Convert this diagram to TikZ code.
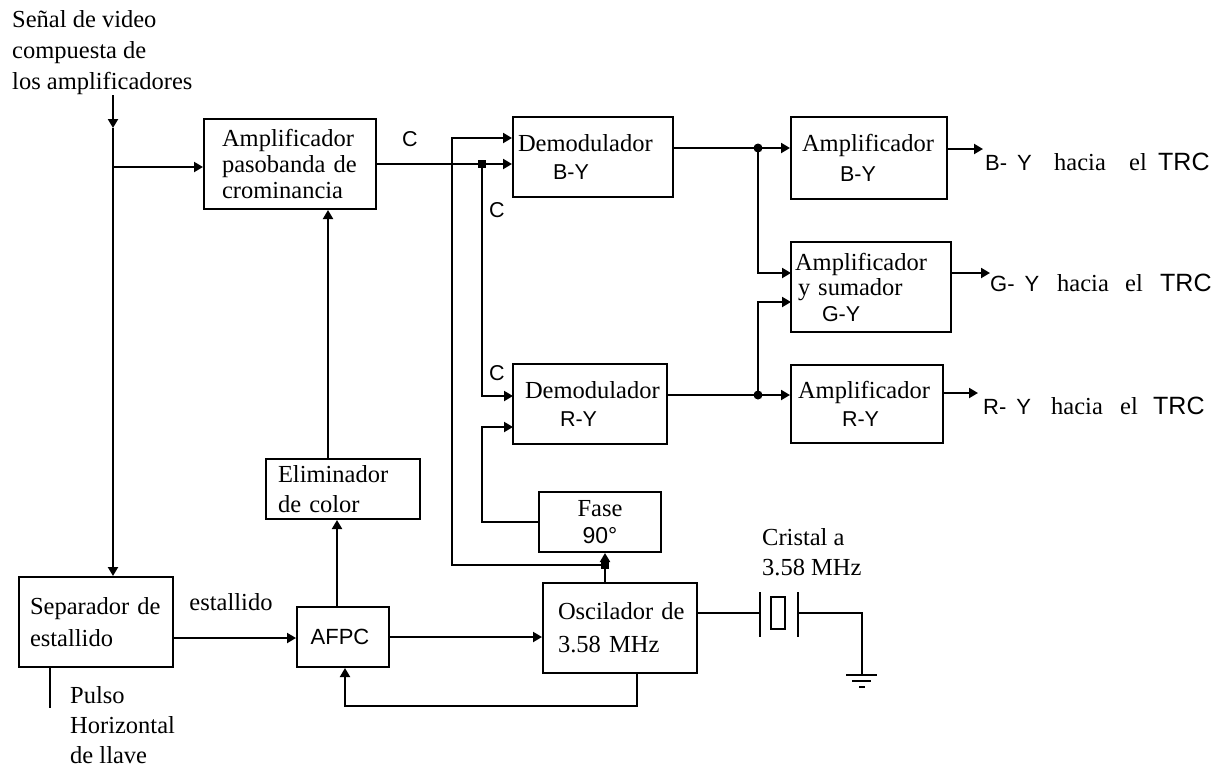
\documentclass[tikz,border=0pt]{standalone}
\usepackage{fontspec}
\setmainfont{Liberation Serif}
\newfontfamily\arialf{Liberation Sans}
\usetikzlibrary{arrows.meta}
\newcommand\ssf[1]{{\arialf\fontsize{21.5}{24}\selectfont #1}}
\newcommand\sersize[1]{\fontsize{24.5}{#1}\selectfont}
\begin{document}
\begin{tikzpicture}[x=1pt,y=-1pt,
  box/.style={draw, line width=2pt, inner sep=0pt, align=left, font=\sersize{26}},
  arr/.style={line width=2pt, -{Triangle[length=9pt,width=10pt]}},
  ln/.style={line width=2pt},
  lbl/.style={inner sep=0pt, align=left, font=\sersize{31}},
  sl/.style={inner sep=0pt, font=\arialf\fontsize{21.5}{24}\selectfont},
  sbase/.style={inner sep=0pt, anchor=base west, font=\arialf\fontsize{22}{24}\selectfont},
  rbase/.style={inner sep=0pt, anchor=base west, font=\sersize{26}}]
\useasboundingbox (0,0) rectangle (1225,769);

% boxes
\node[box, text width=172pt, minimum height=90pt] (amp) at (290,164)
  {\hspace*{18pt}Amplificador\\\hspace*{18pt}pasobanda de\\\hspace*{18pt}crominancia};
\node[box, text width=160pt, minimum height=80pt, font=\sersize{28}] (demB) at (593,157)
  {\hspace*{5pt}Demodulador\\\hspace*{40pt}\ssf{B-Y}};
\node[box, text width=154pt, minimum height=80pt, font=\sersize{28}] (demR) at (590,404)
  {\hspace*{12pt}Demodulador\\\hspace*{47pt}\ssf{R-Y}};
\node[box, text width=122pt, minimum height=60pt, align=center, font=\sersize{27}] (fase) at (600,522)
  {Fase\\{\arialf\fontsize{23}{27}\selectfont 90°}};
\node[box, text width=154pt, minimum height=90pt, font=\sersize{33}] (osc) at (620,628)
  {\hspace*{15pt}Oscilador de\\\hspace*{15pt}3.58 MHz};
\node[box, text width=92pt, minimum height=60pt, align=center] (afpc) at (343,637)
  {{\arialf\fontsize{22}{24}\selectfont\hspace*{-6pt}AFPC}};
\node[box, text width=154pt, minimum height=90pt, font=\sersize{32}] (sep) at (96,622)
  {\hspace*{11pt}Separador de\\\hspace*{11pt}estallido};
\node[box, text width=154pt, minimum height=60pt, font=\sersize{30}] (elim) at (343,489)
  {\hspace*{12pt}Eliminador\\\hspace*{12pt}de color};
\node[box, text width=156pt, minimum height=82pt, font=\sersize{30}] (ampB) at (869,158)
  {\hspace*{11pt}Amplificador\\\hspace*{49pt}\ssf{B-Y}};
\node[box, text width=160pt, minimum height=90pt, font=\sersize{25.5}] (ampG) at (871,287)
  {\hspace*{4pt}Amplificador\\\hspace*{7pt}y\hspace{8pt}sumador\\\hspace*{31pt}\ssf{G-Y}};
\node[box, text width=152pt, minimum height=78pt, font=\sersize{28}] (ampR) at (867,404)
  {\hspace*{7pt}Amplificador\\\hspace*{51pt}\ssf{R-Y}};

% coordinates
\coordinate (inTop) at (113,95);
\coordinate (inMid) at (113,128);
\coordinate (br) at (113,167);
\coordinate (jC) at (482,164);
\coordinate (cL) at (452,138);
\coordinate (jO) at (605,565);
\coordinate (oscT) at (605,583);
\coordinate (rIn1) at (513,396);
\coordinate (rIn2) at (513,427);
\coordinate (jB) at (758,148);
\coordinate (jR) at (758,395);
\coordinate (gIn1) at (791,273);
\coordinate (gIn2) at (791,302);
\coordinate (fb) at (345,706);
\coordinate (pul) at (50,708);
\coordinate (xl) at (760,613);
\coordinate (xr) at (798,613);
\coordinate (gnd) at (862,675);
\coordinate (oB) at (983,149);
\coordinate (oG) at (990,273);
\coordinate (oR) at (978,393);

% connectors
\draw[arr] (inTop) -- (inMid);
\draw[arr] (inMid) -- (inMid |- sep.north);
\draw[arr] (br) -- (br -| amp.west);
\draw[arr] (amp.east) -- (amp.east -| demB.west);
\draw[arr] (jC) |- (rIn1);
\draw[arr] (jO) -| (cL) -- (cL -| demB.west);
\draw[arr] (oscT) -- (oscT |- fase.south);
\draw[arr] (fase.west) -| (rIn2 -| jC) -- (rIn2);
\draw[arr] (afpc.east) -- (afpc.east -| osc.west);
\draw[arr] ([yshift=-16pt]sep.east) -- ([yshift=-16pt]sep.east -| afpc.west);
\draw[arr] ([xshift=17pt]osc.south) |- (fb) -- (fb |- afpc.south);
\draw[arr] ([xshift=-6pt]afpc.north) -- ([xshift=-6pt]elim.south);
\draw[arr] ([xshift=-15pt]elim.north) -- ([xshift=-15pt]elim.north |- amp.south);
\draw[ln] (pul |- sep.south) -- (pul);
\draw[ln] ([yshift=9pt]demB.east) -- (jB);
\draw[arr] (jB) -- (jB -| ampB.west);
\draw[arr] (jB) |- (gIn1);
\draw[ln] ([yshift=9pt]demR.east) -- (jR);
\draw[arr] (jR) -- (jR -| ampR.west);
\draw[arr] (jR) |- (gIn2);
\draw[arr] (oB -| ampB.east) -- (oB);
\draw[arr] (oG -| ampG.east) -- (oG);
\draw[arr] (oR -| ampR.east) -- (oR);

% junctions
\fill (jB) circle (4.5);
\fill (jR) circle (4.5);
\fill ([shift={(-4,-4)}]jC) rectangle ++(8,8);
\fill ([shift={(-4,-4)}]jO) rectangle ++(8,8);

% crystal and ground
\draw[ln] ([yshift=15pt]osc.east) -- (xl);
\draw[ln] (760,592) -- (760,637);
\draw[ln] (771,597) rectangle (785,629);
\draw[ln] (798,592) -- (798,637);
\draw[ln] (xr) -| (gnd);
\draw[ln] (846,675) -- (877,675);
\draw[ln] (852,681) -- (871,681);
\draw[ln] (859,687) -- (865,687);

% labels
\node[lbl, anchor=north west] (inLbl) at (12,10) {Señal de video\\compuesta de\\los amplificadores};
\node[sl] (c1) at (410,139) {C};
\node[sl] (c2) at (497,210) {C};
\node[sl] (c3) at (497,373) {C};
\node[lbl] (est) at (231,602) {estallido};
\node[lbl, anchor=north west, font=\sersize{30}] (pulso) at (70,686) {Pulso\\Horizontal\\de llave};
\node[lbl, anchor=north west, font=\sersize{30}] (cris) at (762,528) {Cristal a\\3.58 MHz};

\node[sbase] (b1) at (985,170) {B-\hspace{10pt}Y};
\node[rbase] (b2) at (1054,170) {hacia};
\node[rbase] (b3) at (1129,170) {el};
\node[sbase, font=\arialf\fontsize{25}{26}\selectfont] (b4) at (1158,170) {TRC};
\node[sbase] (g1) at (990,291) {G-\hspace{10pt}Y};
\node[rbase] (g2) at (1057,291) {hacia};
\node[rbase] (g3) at (1125,291) {el};
\node[sbase, font=\arialf\fontsize{25}{26}\selectfont] (g4) at (1160,291) {TRC};
\node[sbase] (r1) at (983,414) {R-\hspace{10pt}Y};
\node[rbase] (r2) at (1051,414) {hacia};
\node[rbase] (r3) at (1120,414) {el};
\node[sbase, font=\arialf\fontsize{25}{26}\selectfont] (r4) at (1153,414) {TRC};
\end{tikzpicture}
\end{document}
